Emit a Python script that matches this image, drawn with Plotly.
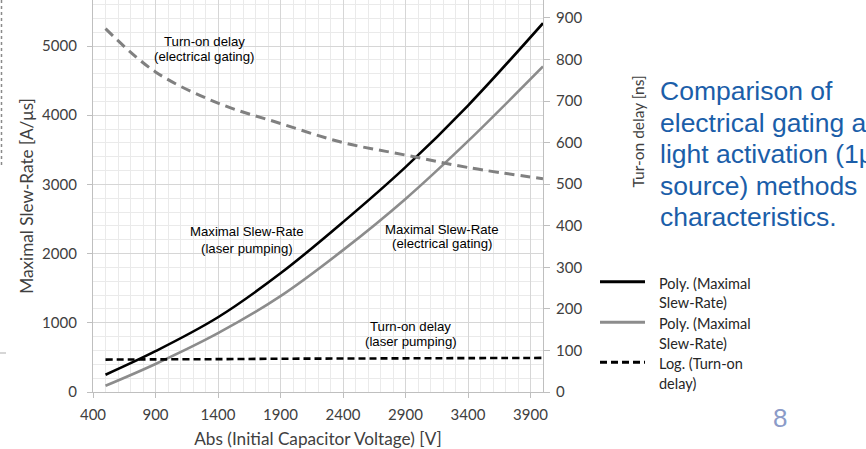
import plotly.graph_objects as go

# ---------------- data ----------------
voltage = [500, 900, 1400, 1900, 2400, 2900, 3400, 4000]
slew_laser = [250, 590, 1080, 1715, 2455, 3250, 4140, 5330]        # black solid, left axis
slew_electrical = [90, 405, 850, 1385, 2050, 2790, 3625, 4705]     # grey solid, left axis
delay_electrical = [874, 770, 695, 646, 600, 570, 540, 513]        # grey dashed, right axis
delay_laser = [78, 78.5, 79, 80, 80.5, 81, 81.5, 82]               # black dashed, right axis

x_ticks = [400, 900, 1400, 1900, 2400, 2900, 3400, 3900]
left_ticks = [0, 1000, 2000, 3000, 4000, 5000]
right_ticks = [0, 100, 200, 300, 400, 500, 600, 700, 800, 900]

legend_labels = ["Poly. (Maximal Slew-Rate)", "Poly. (Maximal Slew-Rate)", "Log. (Turn-on delay)"]
curve_labels = [
    ("Turn-on delay", "(electrical gating)"),
    ("Maximal Slew-Rate", "(laser pumping)"),
    ("Maximal Slew-Rate", "(electrical gating)"),
    ("Turn-on delay", "(laser pumping)"),
]
side_text = ["Comparison of", "electrical gating and", "light activation (1\u03bcJ laser",
             "source) methods", "characteristics."]
page_number = "8"

# ---------------- geometry helpers ----------------
W, H = 866, 449
L, R, T, B = 93, 543, 0, 392          # plot area in pixels


def px(xp):
    return (xp - L) / (R - L)


def py(yp):
    return (B - yp) / (B - T)


TICK_FONT = dict(family="Lato", size=15, color="#404040")
TITLE_FONT = dict(family="Lato", size=17.2, color="#404040")
AX_GREY = "#BFBFBF"

fig = go.Figure()

fig.add_trace(go.Scatter(x=voltage, y=slew_laser, name=legend_labels[0], mode="lines",
                         line=dict(color="#000000", width=2.6, shape="spline"),
                         showlegend=False, yaxis="y"))
fig.add_trace(go.Scatter(x=voltage, y=slew_electrical, name=legend_labels[1], mode="lines",
                         line=dict(color="#8C8C8C", width=2.6, shape="spline"),
                         showlegend=False, yaxis="y"))
fig.add_trace(go.Scatter(x=voltage, y=delay_electrical, name="Log. (Turn-on delay)", mode="lines",
                         line=dict(color="#808080", width=3, dash="10px,6px", shape="spline"),
                         showlegend=False, yaxis="y2"))
fig.add_trace(go.Scatter(x=voltage, y=delay_laser, name=legend_labels[2], mode="lines",
                         line=dict(color="#000000", width=2.6, dash="7px,4px", shape="spline"),
                         showlegend=False, yaxis="y2"))

annotations = []

# in-plot curve labels (data coordinates)
label_pos = [(1288, 5062, 4845), (1630, 2316, 2077), (3194, 2351, 2139), (2941, 944, 727)]
for (l1, l2), (xx, y1, y2) in zip(curve_labels, label_pos):
    for txt, yy in ((l1, y1), (l2, y2)):
        annotations.append(dict(x=xx, y=yy, xref="x", yref="y", text=txt, showarrow=False,
                                xanchor="center", yanchor="middle",
                                font=dict(family="Liberation Sans", size=13.2, color="#000000")))

# right-hand blue text
for i, line in enumerate(side_text):
    annotations.append(dict(x=px(658), y=py(91 + i * 31.6), xref="paper", yref="paper",
                            text=line, showarrow=False, xanchor="left", yanchor="middle",
                            font=dict(family="Liberation Sans", size=26.5, color="#1B5EA9")))

# page number
annotations.append(dict(x=px(779.5), y=py(418), xref="paper", yref="paper", text=page_number,
                        showarrow=False, xanchor="center", yanchor="middle",
                        font=dict(family="Liberation Sans", size=26, color="#8B9BC8")))

# right axis title
annotations.append(dict(x=px(637.5), y=py(132), xref="paper", yref="paper", text="Tur-on delay [ns]",
                        showarrow=False, textangle=-90, xanchor="center", yanchor="middle",
                        font=dict(family="Lato", size=15.5, color="#404040")))

# manual legend
shapes = []
legend_styles = [dict(color="#000000", width=3), dict(color="#8C8C8C", width=3),
                 dict(color="#000000", width=3, dash="7px,4px")]
legend_y = [281.7, 322.3, 362.3]
for lab, sty, ly in zip(legend_labels, legend_styles, legend_y):
    shapes.append(dict(type="line", xref="paper", yref="paper", x0=px(600), x1=px(645),
                       y0=py(ly), y1=py(ly), line=sty))
    first, second = lab.rsplit(" ", 1)
    for j, txt in enumerate((first, second)):
        annotations.append(dict(x=px(657), y=py(ly + 1.5 + j * 19.3), xref="paper", yref="paper",
                                text=txt, showarrow=False, xanchor="left", yanchor="middle",
                                font=dict(family="Lato", size=14.5, color="#262626")))

# slide artifacts at the left edge
shapes.append(dict(type="line", xref="paper", yref="paper", x0=px(1.5), x1=px(1.5),
                   y0=py(0), y1=py(165), line=dict(color="#8A8A8A", width=1.5, dash="3px,3px")))
shapes.append(dict(type="line", xref="paper", yref="paper", x0=px(0), x1=px(6),
                   y0=py(353), y1=py(353), line=dict(color="#C8C8C8", width=1.5)))

fig.update_layout(
    width=W, height=H,
    margin=dict(l=L, r=W - R, t=T, b=H - B, pad=0, autoexpand=False),
    paper_bgcolor="white", plot_bgcolor="white",
    showlegend=False,
    annotations=annotations, shapes=shapes,
    xaxis=dict(range=[400, 4000], tickvals=x_ticks, ticktext=[str(v) for v in x_ticks],
               showgrid=True, gridcolor="#D6D6D6", gridwidth=1,
               minor=dict(tick0=400, dtick=100, showgrid=True, gridcolor="#EAEAEA", ticks=""),
               showline=True, linecolor=AX_GREY, linewidth=1.2, ticks="outside", ticklen=5,
               tickcolor=AX_GREY, tickfont=TICK_FONT, zeroline=False, ticklabelstandoff=4,
               title=dict(text="Abs (Initial Capacitor Voltage) [V]", standoff=18,
                          font=TITLE_FONT)),
    yaxis=dict(range=[0, 5665], tickvals=left_ticks, ticktext=[str(v) for v in left_ticks],
               showgrid=True, gridcolor="#D6D6D6", gridwidth=1,
               minor=dict(tick0=0, dtick=200, showgrid=True, gridcolor="#EAEAEA", ticks=""),
               showline=True, linecolor=AX_GREY, linewidth=1.2, ticks="outside", ticklen=5,
               tickcolor=AX_GREY, tickfont=TICK_FONT, zeroline=False, ticklabelstandoff=7,
               title=dict(text="Maximal Slew-Rate [A/\u03bcs]", standoff=4, font=TITLE_FONT)),
    yaxis2=dict(range=[0, 943], tickvals=right_ticks, ticktext=[str(v) for v in right_ticks],
                overlaying="y", side="right", showgrid=False,
                showline=True, linecolor=AX_GREY, linewidth=1.2, ticks="outside", ticklen=6,
                tickcolor=AX_GREY, tickfont=TICK_FONT, zeroline=False, ticklabelstandoff=3),
)

fig.write_html("out.html", config={"displayModeBar": False},
               post_script="document.body.style.margin='0px';")
